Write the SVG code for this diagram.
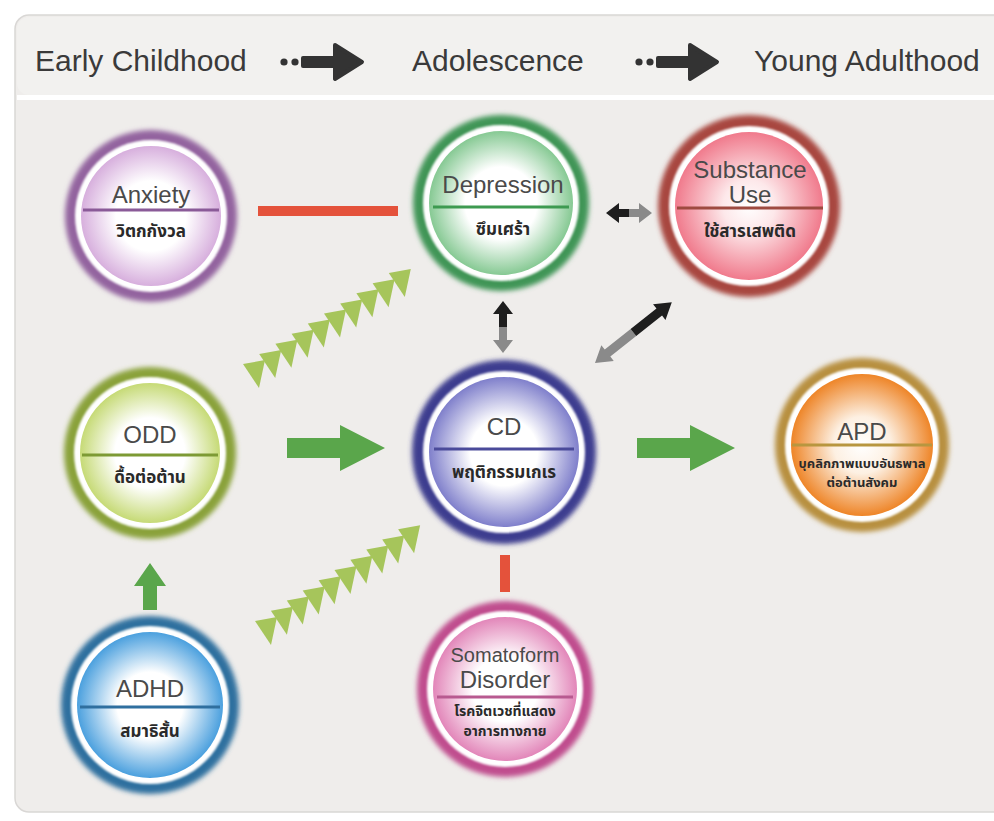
<svg xmlns="http://www.w3.org/2000/svg" xmlns:xlink="http://www.w3.org/1999/xlink" width="994" height="821" viewBox="0 0 994 821">
<style>
.hd{font-family:"Liberation Sans",Arial,sans-serif;font-size:30px;fill:#3a3a3a}
.en{font-family:"Liberation Sans",Arial,sans-serif;font-size:24px;fill:#4a4a4a;text-anchor:middle}
.th{font-family:"Noto Sans Thai","Noto Sans","DejaVu Sans",sans-serif;font-weight:bold;font-size:17px;fill:#2a2a2a;text-anchor:middle}
.ths{font-size:13px}
.ring{filter:url(#soft)}
.wr{fill:#ffffff;filter:url(#soft1)}
.gr{fill:#5aa64b}
.chev{fill:#a6c55b}
</style>
<defs>
<filter id="soft" x="-20%" y="-20%" width="140%" height="140%"><feGaussianBlur stdDeviation="2.6"/></filter>
<filter id="soft1" x="-10%" y="-10%" width="120%" height="120%"><feGaussianBlur stdDeviation="1"/></filter>
<radialGradient id="g-anx"><stop offset="0" stop-color="#fff"/><stop offset="0.5" stop-color="#fff"/><stop offset="1" stop-color="#d7afdd"/></radialGradient>
<radialGradient id="g-dep"><stop offset="0" stop-color="#fff"/><stop offset="0.5" stop-color="#fff"/><stop offset="1" stop-color="#86c993"/></radialGradient>
<radialGradient id="g-sub"><stop offset="0" stop-color="#fff"/><stop offset="0.35" stop-color="#fde8ea"/><stop offset="1" stop-color="#f07a8c"/></radialGradient>
<radialGradient id="g-odd"><stop offset="0" stop-color="#fff"/><stop offset="0.5" stop-color="#fff"/><stop offset="1" stop-color="#c6da76"/></radialGradient>
<radialGradient id="g-cd"><stop offset="0" stop-color="#fff"/><stop offset="0.45" stop-color="#fff"/><stop offset="1" stop-color="#7f7fcb"/></radialGradient>
<radialGradient id="g-apd"><stop offset="0" stop-color="#fff"/><stop offset="0.4" stop-color="#fdf0e2"/><stop offset="1" stop-color="#ee8528"/></radialGradient>
<radialGradient id="g-som"><stop offset="0" stop-color="#fff"/><stop offset="0.45" stop-color="#fff"/><stop offset="1" stop-color="#e286b9"/></radialGradient>
<radialGradient id="g-adh"><stop offset="0" stop-color="#fff"/><stop offset="0.45" stop-color="#fff"/><stop offset="1" stop-color="#4ba0de"/></radialGradient>
<polygon id="tri" points="0,4 22,0 16,28"/>
</defs>

<!-- background / panel -->
<rect x="0" y="0" width="994" height="821" fill="#ffffff"/>
<rect x="15" y="15" width="1000" height="797" rx="14" fill="#efedeb" stroke="#d9d7d5" stroke-width="1.5"/>
<rect x="17" y="17" width="990" height="78" rx="12" fill="#f2f1ef"/>
<rect x="17" y="95" width="990" height="5" fill="#ffffff"/>

<!-- header -->
<g id="header">
<text class="hd" x="35" y="71">Early Childhood</text>
<text class="hd" x="412" y="71">Adolescence</text>
<text class="hd" x="754" y="71">Young Adulthood</text>
<g fill="#333" stroke="#333" stroke-linejoin="round">
<circle cx="284" cy="62" r="3.6" stroke="none"/><circle cx="295" cy="62" r="3.6" stroke="none"/>
<rect x="301" y="56" width="34" height="12" rx="2" stroke="none"/>
<polygon points="335,45 362,62 335,79" stroke-width="4"/>
<circle cx="639" cy="62" r="3.6" stroke="none"/><circle cx="650" cy="62" r="3.6" stroke="none"/>
<rect x="656" y="56" width="34" height="12" rx="2" stroke="none"/>
<polygon points="690,45 717,62 690,79" stroke-width="4"/>
</g>
</g>

<!-- connectors -->
<g id="connectors">
<rect x="258" y="206" width="140" height="10" fill="#e4523b"/>
<rect x="500" y="555" width="10" height="37" fill="#e4523b"/>
<polygon class="gr" points="287,438 340,438 340,425 385,448 340,471 340,458 287,458"/>
<polygon class="gr" points="637,438 690,438 690,425 735,448 690,471 690,458 637,458"/>
<polygon class="gr" points="143,610 143,586 134,586 150,563 166,586 157,586 157,610"/>
<!-- Depression <-> CD -->
<polygon fill="#1e1e1e" points="503,301 513,314 507,314 507,327 499,327 499,314 493,314"/>
<polygon fill="#8a8a8a" points="503,353 513,340 507,340 507,327 499,327 499,340 493,340"/>
<!-- Depression <-> Substance -->
<polygon fill="#1e1e1e" points="606,213 619,203 619,209 629,209 629,217 619,217 619,223"/>
<polygon fill="#8a8a8a" points="652,213 639,203 639,209 629,209 629,217 639,217 639,223"/>
<!-- CD <-> Substance -->
<g transform="translate(595,363) rotate(-38.4)">
<polygon fill="#8a8a8a" points="0,0 16,-10 16,-4.5 49,-4.5 49,4.5 16,4.5 16,10"/>
<polygon fill="#1e1e1e" points="98,0 82,-10 82,-4.5 49,-4.5 49,4.5 82,4.5 82,10"/>
</g>
<!-- chevron chains -->
<g class="chev">
<use xlink:href="#tri" x="243" y="360"/><use xlink:href="#tri" x="259.2" y="349.9"/><use xlink:href="#tri" x="275.4" y="339.8"/><use xlink:href="#tri" x="291.6" y="329.7"/><use xlink:href="#tri" x="307.8" y="319.6"/><use xlink:href="#tri" x="324" y="309.5"/><use xlink:href="#tri" x="340.2" y="299.4"/><use xlink:href="#tri" x="356.4" y="289.3"/><use xlink:href="#tri" x="372.6" y="279.2"/><use xlink:href="#tri" x="388.8" y="269.1"/>
<use xlink:href="#tri" x="255" y="617"/><use xlink:href="#tri" x="270.9" y="606.8"/><use xlink:href="#tri" x="286.8" y="596.6"/><use xlink:href="#tri" x="302.7" y="586.4"/><use xlink:href="#tri" x="318.6" y="576.2"/><use xlink:href="#tri" x="334.5" y="566"/><use xlink:href="#tri" x="350.4" y="555.8"/><use xlink:href="#tri" x="366.3" y="545.6"/><use xlink:href="#tri" x="382.2" y="535.4"/><use xlink:href="#tri" x="398.1" y="525.2"/>
</g>
</g>

<!-- nodes -->
<g id="anxiety">
<circle class="ring" cx="151" cy="216" r="86" fill="#93639f"/>
<circle class="wr" cx="151" cy="216" r="76"/>
<circle cx="151" cy="216" r="70" fill="url(#g-anx)"/>
<line x1="83" y1="210" x2="219" y2="210" stroke="#8a5a98" stroke-width="3"/>
<text class="en" x="151" y="203">Anxiety</text>
<text class="th" x="151" y="237">วิตกกังวล</text>
</g>

<g id="depression">
<circle class="ring" cx="501" cy="203" r="88" fill="#3f9557"/>
<circle class="wr" cx="501" cy="203" r="78"/>
<circle cx="501" cy="203" r="72" fill="url(#g-dep)"/>
<line x1="433" y1="207" x2="569" y2="207" stroke="#3d9a50" stroke-width="3"/>
<text class="en" x="503" y="193">Depression</text>
<text class="th" x="503" y="235">ซึมเศร้า</text>
</g>

<g id="substance">
<circle class="ring" cx="749" cy="206" r="91" fill="#a8473f"/>
<circle class="wr" cx="749" cy="206" r="80"/>
<circle cx="749" cy="206" r="74" fill="url(#g-sub)"/>
<line x1="677" y1="208" x2="823" y2="208" stroke="#9e4a40" stroke-width="3"/>
<text class="en" x="750" y="178">Substance</text>
<text class="en" x="750" y="203">Use</text>
<text class="th" x="750" y="237">ใช้สารเสพติด</text>
</g>

<g id="odd">
<circle class="ring" cx="150" cy="453" r="86" fill="#8aa23a"/>
<circle class="wr" cx="150" cy="453" r="76"/>
<circle cx="150" cy="453" r="70" fill="url(#g-odd)"/>
<line x1="82" y1="455" x2="218" y2="455" stroke="#7d9a34" stroke-width="3"/>
<text class="en" x="150" y="443">ODD</text>
<text class="th" x="150" y="483">ดื้อต่อต้าน</text>
</g>

<g id="cd">
<circle class="ring" cx="504" cy="452" r="92" fill="#3d3d8f"/>
<circle class="wr" cx="504" cy="452" r="81"/>
<circle cx="504" cy="452" r="75" fill="url(#g-cd)"/>
<line x1="434" y1="449" x2="574" y2="449" stroke="#4a4a9a" stroke-width="3"/>
<text class="en" x="504" y="435">CD</text>
<text class="th" x="504" y="478">พฤติกรรมเกเร</text>
</g>

<g id="apd">
<circle class="ring" cx="862" cy="445" r="87" fill="#b8903f"/>
<circle class="wr" cx="862" cy="445" r="77"/>
<circle cx="862" cy="445" r="71" fill="url(#g-apd)"/>
<line x1="792" y1="445" x2="932" y2="445" stroke="#b8963f" stroke-width="3"/>
<text class="en" x="862" y="440">APD</text>
<text class="th ths" x="862" y="468">บุคลิกภาพแบบอันธพาล</text>
<text class="th ths" x="862" y="487">ต่อต้านสังคม</text>
</g>

<g id="somatoform">
<circle class="ring" cx="505" cy="689" r="88" fill="#c04d8e"/>
<circle class="wr" cx="505" cy="689" r="78"/>
<circle cx="505" cy="689" r="72" fill="url(#g-som)"/>
<line x1="437" y1="697" x2="573" y2="697" stroke="#b85a90" stroke-width="3"/>
<text class="en" x="505" y="662" style="font-size:20px">Somatoform</text>
<text class="en" x="505" y="688">Disorder</text>
<text class="th ths" x="505" y="716" style="font-size:14px">โรคจิตเวชที่แสดง</text>
<text class="th ths" x="505" y="736" style="font-size:14px">อาการทางกาย</text>
</g>

<g id="adhd">
<circle class="ring" cx="150" cy="705" r="89" fill="#2f709f"/>
<circle class="wr" cx="150" cy="705" r="79"/>
<circle cx="150" cy="705" r="73" fill="url(#g-adh)"/>
<line x1="80" y1="707" x2="220" y2="707" stroke="#2f6f9f" stroke-width="3"/>
<text class="en" x="150" y="697">ADHD</text>
<text class="th" x="150" y="737">สมาธิสั้น</text>
</g>
</svg>
